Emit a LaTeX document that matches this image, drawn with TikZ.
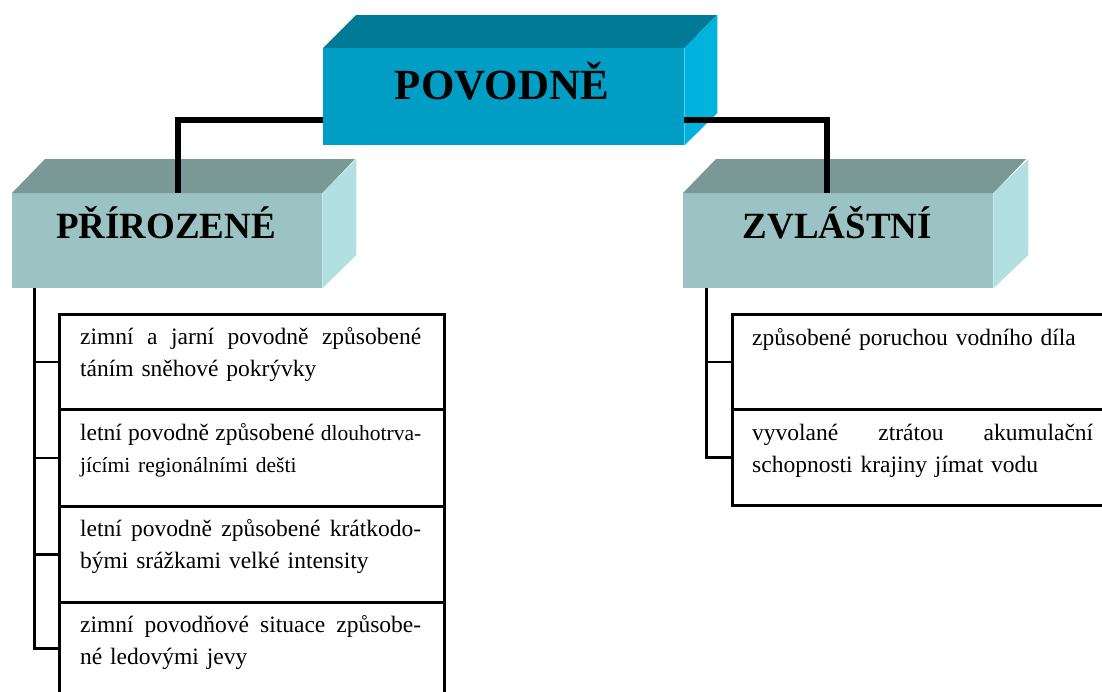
\documentclass[tikz,border=0pt]{standalone}
\usepackage{fontspec}
\setmainfont{Liberation Serif}
\setlength\parindent{0pt}
\newcommand\bigt{\fontsize{23.5}{32}\selectfont}
\newcommand\smlt{\fontsize{21.5}{32}\selectfont}
\newcommand\jl[1]{\hbox to 341pt{\spaceskip=0.25em plus 1fill\relax #1}}
\definecolor{povfront}{RGB}{0,158,196}
\definecolor{povtop}{RGB}{0,122,150}
\definecolor{povside}{RGB}{0,178,222}
\definecolor{tealfront}{RGB}{155,195,195}
\definecolor{tealtop}{RGB}{122,152,150}
\definecolor{tealside}{RGB}{178,224,224}
\begin{document}
\begin{tikzpicture}[x=1pt,y=-1pt,
  face/.style={rectangle, draw=none, inner sep=0pt, anchor=north west},
  ttlA/.style={inner sep=0pt, anchor=base, font={\fontsize{43}{50}\selectfont\bfseries}},
  ttlB/.style={inner sep=0pt, anchor=base, font={\fontsize{37}{44}\selectfont\bfseries}},
  conn/.style={line width=5.5pt, black},
  tree/.style={line width=2.5pt, black},
  tbox/.style={rectangle, draw=black, line width=2.5pt, inner sep=0pt, anchor=north west},
  txt/.style={inner sep=0pt, anchor=base west, text width=341pt, align=left, font=\bigt}]
\useasboundingbox (0,0) rectangle (1102,691);
\fill[white] (0,0) rectangle (1102,691);

% child boxes (3D)
\node[face, fill=tealfront, minimum width=310pt, minimum height=95pt] (pri) at (12,193) {};
\fill[tealtop] (pri.north west) -- ++(33,-34) -- ++(310,0) -- (pri.north east) -- cycle;
\fill[tealside] (pri.north east) -- ++(34,-34) -- ++(0,96) -- (pri.south east) -- cycle;
\node[ttlB] (prit) at (166,238) {PŘÍROZENÉ};

\node[face, fill=tealfront, minimum width=310pt, minimum height=95pt] (zvl) at (683,193) {};
\fill[tealtop] (zvl.north west) -- ++(33,-34) -- ++(310,0) -- (zvl.north east) -- cycle;
\fill[tealside] (zvl.north east) -- ++(35,-34) -- ++(0,96) -- (zvl.south east) -- cycle;
\node[ttlB] (zvlt) at (837.5,238) {ZVLÁŠTNÍ};

% top box, back faces
\node[face, minimum width=361pt, minimum height=97pt] (pov) at (323,48) {};
\fill[povtop] (pov.north west) -- ++(33,-33) -- ++(361,0) -- (pov.north east) -- cycle;
\fill[povside] (pov.north east) -- ++(33,-33) -- ++(0,98) -- (pov.south east) -- cycle;

% thick connector
\coordinate (prin) at (178,193);
\coordinate (zvln) at (827,193);
\draw[conn] (prin) -- ++(0,-73) -| (zvln);

% top box front face
\fill[povfront] (pov.north west) rectangle (pov.south east);
\node[ttlA] (povt) at (502,99) {POVODNĚ};

% left list
\node[tbox, minimum width=385pt, minimum height=95pt] (b1) at (58,313) {};
\node[tbox, minimum width=385pt, minimum height=97pt] (b2) at (58,408) {};
\node[tbox, minimum width=385pt, minimum height=96pt] (b3) at (58,505) {};
\node[tbox, minimum width=385pt, minimum height=92pt] (b4) at (58,601) {};

\node[txt] (t1) at (80,344) {\jl{zimní a jarní povodně způsobené}\\táním sněhové pokrývky};
\node[txt] (t2) at (80,440) {\jl{letní povodně způsobené {\smlt dlouhotrva-}}\\{\smlt jícími regionálními dešti}};
\node[txt] (t3) at (80,536) {\jl{letní povodně způsobené krátkodo-}\\bými srážkami velké intensity};
\node[txt] (t4) at (80,632) {\jl{zimní povodňové situace způsobe-}\\né ledovými jevy};

\coordinate (lt) at (34.5,288);
\draw[tree] (lt) |- (b4.west);
\draw[tree] (lt |- b1.west) -- (b1.west);
\draw[tree] (lt |- b2.west) -- (b2.west);
\draw[tree] (lt |- b3.west) -- (b3.west);

% right list
\node[tbox, minimum width=380pt, minimum height=95pt] (r1) at (731,313) {};
\node[tbox, minimum width=380pt, minimum height=96pt] (r2) at (731,408) {};
\node[txt] (s1) at (752,345) {způsobené poruchou vodního díla};
\node[txt] (s2) at (752,440) {\jl{vyvolané ztrátou akumulační}\\schopnosti krajiny jímat vodu};

\coordinate (rt) at (706.5,288);
\draw[tree] (rt) |- (r2.west);
\draw[tree] (rt |- r1.west) -- (r1.west);
\end{tikzpicture}
\end{document}
